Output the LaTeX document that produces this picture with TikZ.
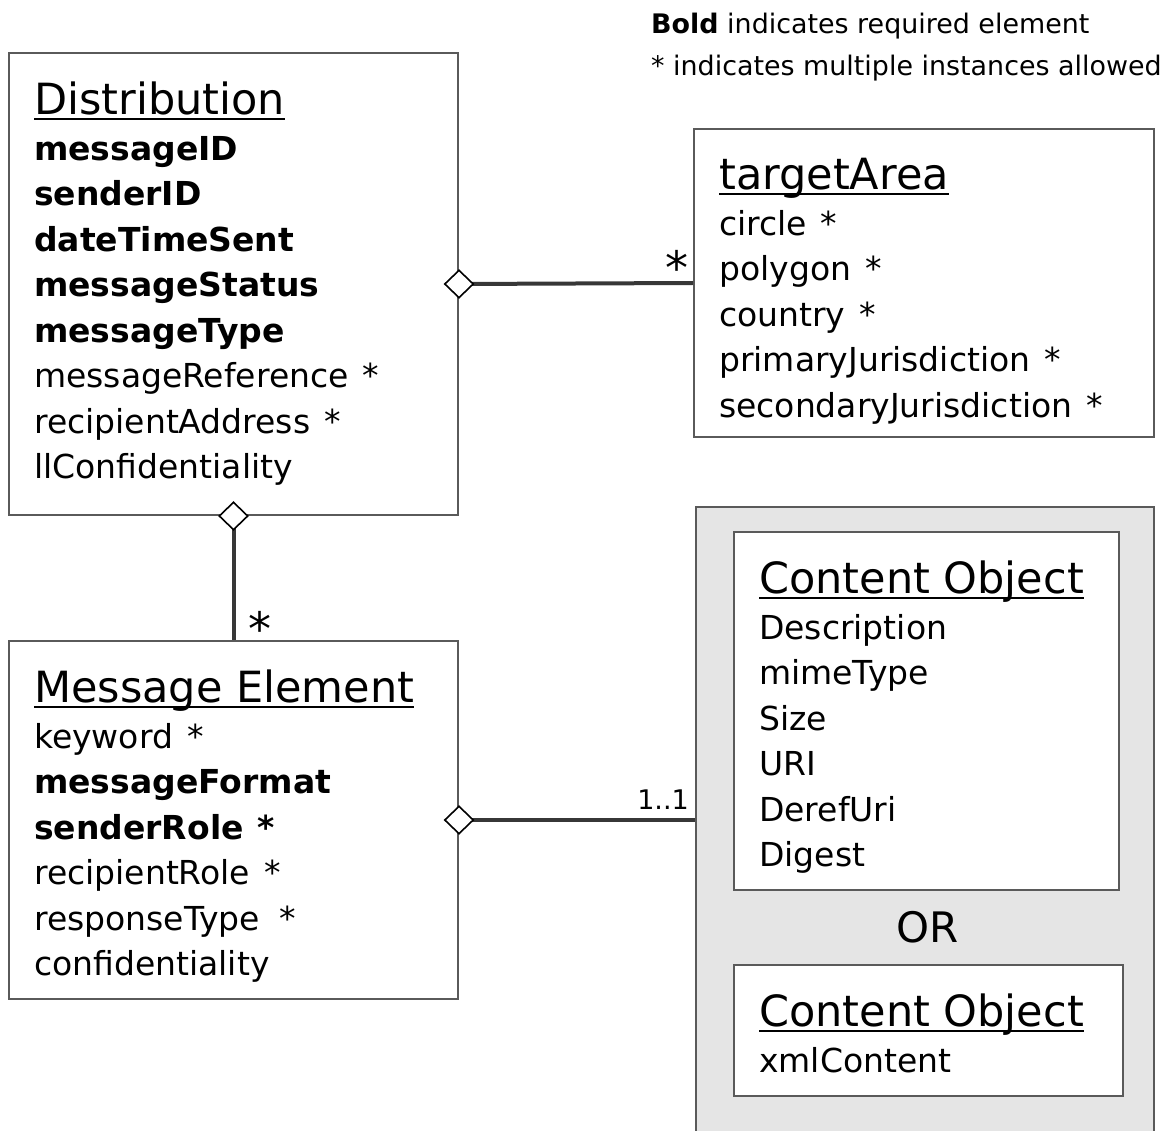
\documentclass[tikz,border=0pt]{standalone}
\usepackage{fontspec}
\setmainfont{DejaVu Sans}
\usepackage{tikz}
\usetikzlibrary{positioning,shapes.geometric}
\definecolor{BoxGray}{RGB}{90,90,90}
\definecolor{LinkGray}{RGB}{55,55,55}
\definecolor{GroupFill}{RGB}{229,229,229}
\newsavebox{\titlebox}
\newcommand{\umltitle}[1]{\sbox\titlebox{\fontsize{43}{45.5}\selectfont #1}%
  \rlap{\rule[-5pt]{\wd\titlebox}{2pt}}\usebox\titlebox}
\newcommand{\many}{\hspace{14pt}*}

\begin{document}
\begin{tikzpicture}[
        x=1pt, y=-1pt,
        node distance=30pt and 26pt,
        umlbox/.style={rectangle, draw=BoxGray, line width=2pt, fill=white,
                       anchor=north west, inner sep=0pt},
        groupbox/.style={umlbox, fill=GroupFill},
        attrs/.style={inner sep=0pt, align=left, font=\fontsize{33}{45.5}\selectfont},
        agg/.style={diamond, draw=black, fill=white, line width=1.6pt,
                    minimum width=29pt, minimum height=28pt, inner sep=0pt},
        link/.style={draw=LinkGray, line width=4pt},
        mult/.style={inner sep=0pt, font=\fontsize{46}{46}\selectfont}
    ]
        \useasboundingbox (0,0) rectangle (1167,1131);
        \clip (0,0) rectangle (1167,1131);

        \node[attrs, anchor=north west, font=\fontsize{26.9}{42}\selectfont] (legend) at (651,13)
            {\textbf{Bold} indicates required element\\{}* indicates multiple instances allowed};

        \node[umlbox, minimum width=449pt, minimum height=462pt] (dist) at (8,52) {};
        \node[attrs, below right=of dist.north west] (distAttrs)
            {\umltitle{Distribution}\\
             \textbf{messageID}\\
             \textbf{senderID}\\
             \textbf{dateTimeSent}\\
             \textbf{messageStatus}\\
             \textbf{messageType}\\
             messageReference\many\\
             recipientAddress\many\\
             llConfidentiality};

        \node[umlbox, minimum width=460pt, minimum height=308pt] (targetArea) at (693,128) {};
        \node[attrs, below right=of targetArea.north west] (targetAttrs)
            {\umltitle{targetArea}\\
             circle\many\\
             polygon\many\\
             country\many\\
             primaryJurisdiction\many\\
             secondaryJurisdiction\many};

        \node[umlbox, minimum width=449pt, minimum height=358pt] (msgElem) at (8,640) {};
        \node[attrs, below right=of msgElem.north west] (msgAttrs)
            {\umltitle{Message Element}\\
             keyword\many\\
             \textbf{messageFormat}\\
             \textbf{senderRole\many}\\
             recipientRole\many\\
             responseType\hspace{6pt}\many\\
             confidentiality};

        \node[groupbox, minimum width=458pt, minimum height=650pt] (contentGrp) at (695,506) {};
        \node[umlbox, minimum width=385pt, minimum height=358pt] (contentA) at (733,531) {};
        \node[attrs, below right=of contentA.north west] (contentAttrsA)
            {\umltitle{Content Object}\\
             Description\\
             mimeType\\
             Size\\
             URI\\
             DerefUri\\
             Digest};
        \node[inner sep=0pt, font=\fontsize{42}{42}\selectfont] (orLabel) at (928,927) {OR};
        \node[umlbox, minimum width=389pt, minimum height=131pt] (contentB) at (733,964) {};
        \node[attrs, below right=of contentB.north west] (contentAttrsB)
            {\umltitle{Content Object}\\
             xmlContent};

        \draw[link] (dist.east) -- (targetArea.west);
        \draw[link] (dist.south) -- (msgElem.north);
        \draw[link] (msgElem.east) -- (msgElem.east -| contentGrp.west);
        \node[agg] (aggTarget) at (dist.east) {};
        \node[agg] (aggElem) at (dist.south) {};
        \node[agg] (aggContent) at (msgElem.east) {};

        \node[mult] (multTarget) at ([shift={(-16,-16)}]targetArea.west) {*};
        \node[mult] (multElem) at ([shift={(26,-12)}]msgElem.north) {*};
        \node[mult, anchor=south east, font=\fontsize{27}{27}\selectfont] (multContent)
            at ([shift={(-6,-10)}]msgElem.east -| contentGrp.west) {1..1};
    \end{tikzpicture}
\end{document}
